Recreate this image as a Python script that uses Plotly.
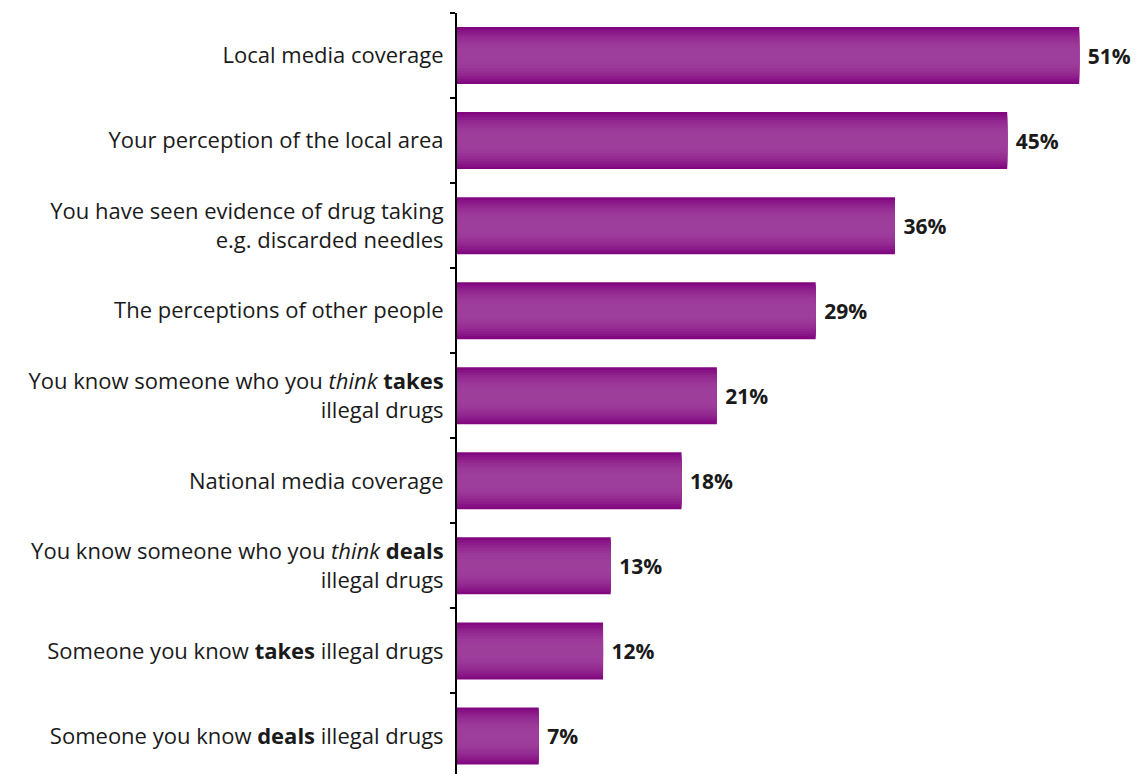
import plotly.graph_objects as go

categories = [
    "Local media coverage",
    "Your perception of the local area",
    "You have seen evidence of drug taking<br>e.g. discarded needles",
    "The perceptions of other people",
    "You know someone who you <i>think</i> <b>takes</b><br>illegal drugs",
    "National media coverage",
    "You know someone who you <i>think</i> <b>deals</b><br>illegal drugs",
    "Someone you know <b>takes</b> illegal drugs",
    "Someone you know <b>deals</b> illegal drugs",
]
values = [51.0, 45.1, 35.9, 29.4, 21.3, 18.4, 12.6, 11.97, 6.7]

dark = (130, 8, 128)
light = (158, 62, 155)
n_layers = 10
full_w = 0.67

fig = go.Figure()
for k in range(n_layers):
    t = k / (n_layers - 1)
    s = 1 - (1 - t) ** 2
    col = tuple(int(round(dark[i] + (light[i] - dark[i]) * s)) for i in range(3))
    w = full_w * (1 - k / n_layers * 0.92)
    fig.add_trace(go.Bar(
        y=categories, x=values, orientation="h",
        width=w,
        marker=dict(color="rgb(%d,%d,%d)" % col, line=dict(width=0)),
        text=[f"{v:.0f}%" for v in values] if k == 0 else None,
        texttemplate="\u00a0<b>%{text}</b>" if k == 0 else None,
        textposition="outside" if k == 0 else "none",
        textfont=dict(family="Open Sans", size=21, color="#1a1a1a"),
        cliponaxis=False,
        hoverinfo="skip" if k > 0 else None,
        showlegend=False,
    ))

fig.update_layout(
    width=1138, height=774,
    margin=dict(l=457, r=0, t=13, b=0),
    barmode="overlay",
    plot_bgcolor="white", paper_bgcolor="white",
    font=dict(family="Open Sans", size=22, color="#1a1a1a"),
)
fig.update_xaxes(range=[0, 55.82], visible=False, showgrid=False)
fig.update_yaxes(
    type="category",
    range=[8.447, -0.5],
    showline=True, linecolor="black", linewidth=2,
    ticks="outside", ticklen=5, tickcolor="black", tickwidth=2,
    tickson="boundaries",
    showgrid=False,
    ticklabelstandoff=7,
    automargin=False,
)
fig.write_html("out.html", config={"displayModeBar": False},
               post_script="document.body.style.margin='0';")
